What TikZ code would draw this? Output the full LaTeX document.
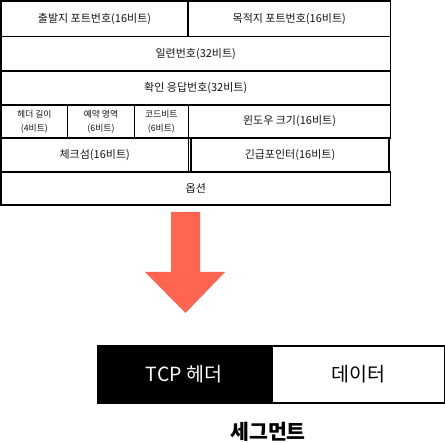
\documentclass[tikz,border=0pt]{standalone}
\usepackage{fontspec}
\setmainfont{Noto Sans CJK KR}
\definecolor{arrowred}{RGB}{255,101,80}
\definecolor{txt}{RGB}{20,20,20}
\tikzset{
  cell/.style={draw=black, line width=1.5pt, rectangle, inner sep=0pt, text=txt, font=\fontsize{11}{12}\selectfont, align=center},
  small/.style={cell, font=\fontsize{8.8}{14}\selectfont},
  segbox/.style={draw=black, line width=2pt, rectangle, inner sep=0pt, font=\fontsize{19.5}{22}\selectfont},
}
\begin{document}
\begin{tikzpicture}[x=1pt,y=-1pt]
\useasboundingbox (0,0) rectangle (445,443);
% row 1
\node[cell, minimum width=187pt, minimum height=35.5pt] (src) at (94.5,18.75) {출발지 포트번호(16비트)};
\node[cell, minimum width=202.5pt, minimum height=35.5pt] (dst) at (289.25,18.75) {목적지 포트번호(16비트)};
% row 2
\node[cell, minimum width=389.5pt, minimum height=34.5pt] (seq) at (195.75,53.75) {일련번호(32비트)};
% row 3
\node[cell, minimum width=389.5pt, minimum height=34pt] (ack) at (195.75,88) {확인 응답번호(32비트)};
% row 4
\node[small, minimum width=66.7pt, minimum height=33pt] (hlen) at (34.35,121.5) {헤더 길이\\(4비트)};
\node[small, minimum width=66.6pt, minimum height=33pt] (rsv) at (101,121.5) {예약 영역\\(6비트)};
\node[small, minimum width=54.2pt, minimum height=33pt] (code) at (161.4,121.5) {코드비트\\(6비트)};
\node[cell, minimum width=202pt, minimum height=33pt] (win) at (289.5,121.5) {윈도우 크기(16비트)};
% row 5
\node[cell, minimum width=187.5pt, minimum height=34pt] (chk) at (94.75,155) {체크섬(16비트)};
\node[cell, minimum width=198pt, minimum height=34pt] (urg) at (290,155) {긴급포인터(16비트)};
% row 6
\node[cell, minimum width=389.5pt, minimum height=33pt] (opt) at (195.75,188.5) {옵션};
% arrow
\fill[arrowred] (171,212) -- (200,212) -- (200,272) -- (225,272) -- (185.5,313) -- (145,272) -- (171,272) -- cycle;
% segment
\node[segbox, fill=black, text=white, minimum width=172pt, minimum height=57pt] (hdr) at (184,374.5) {TCP 헤더};
\node[segbox, fill=white, text=black, minimum width=173pt, minimum height=57pt, anchor=west] (data) at (hdr.east) {데이터};
\node[font=\fontsize{20.5}{24}\selectfont\bfseries, text=black] (seg) at (268,432) {세그먼트};
\end{tikzpicture}
\end{document}
